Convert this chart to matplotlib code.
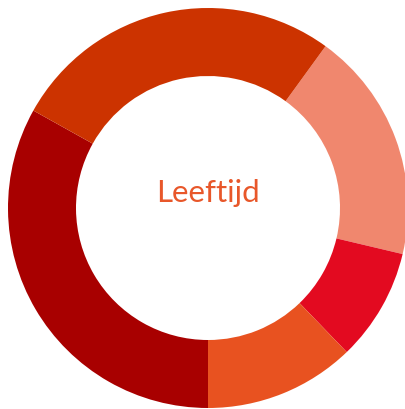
import matplotlib.pyplot as plt

# Leeftijd donut
labels = ['Groep 1', 'Groep 2', 'Groep 3', 'Groep 4', 'Groep 5']
values = [18.7, 9.1, 12.2, 33.1, 26.9]
colors = ['#F0876E', '#E30A20', '#E85220', '#A80000', '#CC3300']

fig = plt.figure(figsize=(4.06, 4.09), dpi=100)
ax = fig.add_axes([0, 0, 1, 1])

ax.pie(values, colors=colors, startangle=54, counterclock=False,
       radius=1.0, wedgeprops=dict(width=0.34, linewidth=0))

ax.text(0, 0.075, 'Leeftijd', ha='center', va='center', fontsize=22.5,
        color='#E8572A', family='Lato')

ax.set_xlim(-208 / 200, 198 / 200)
ax.set_ylim(-201 / 200, 208 / 200)
ax.set_aspect('auto')
ax.axis('off')

fig.savefig('out.png', dpi=100)
